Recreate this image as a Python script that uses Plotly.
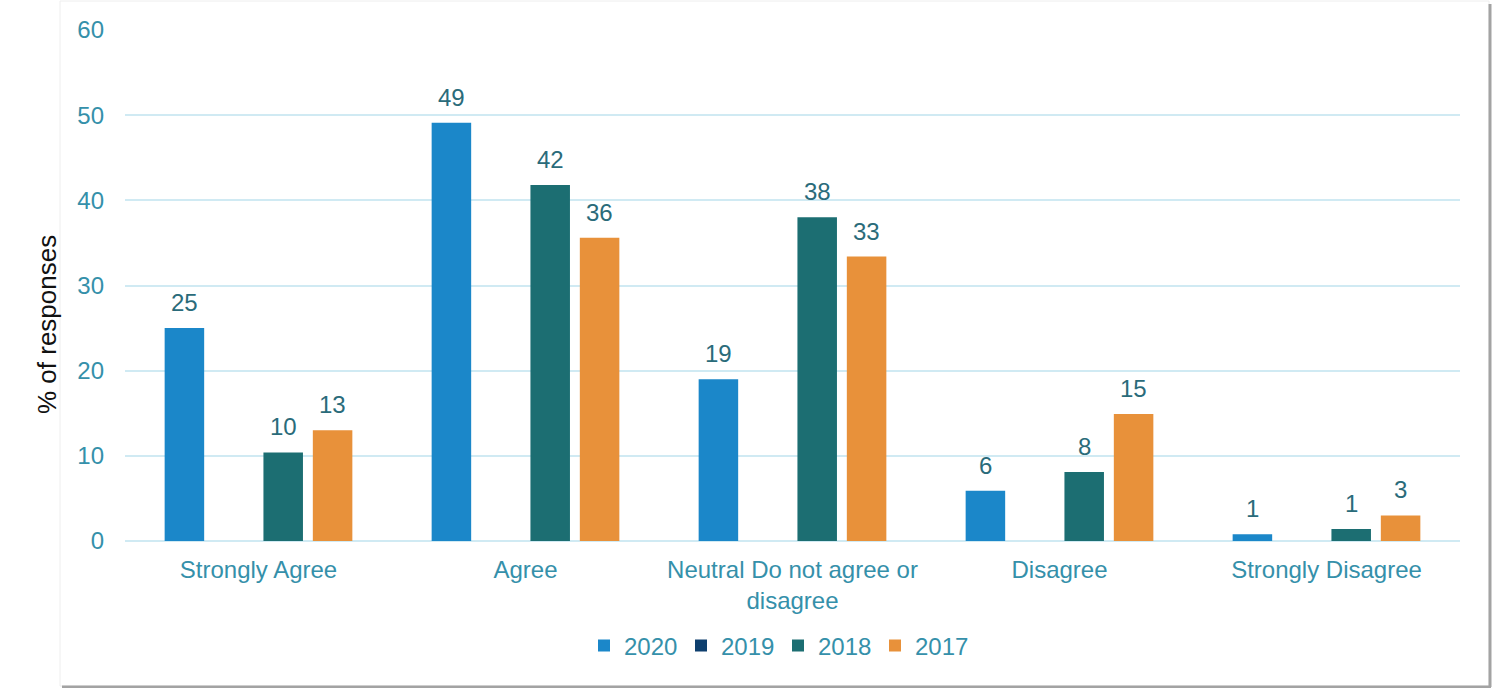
import plotly.graph_objects as go

categories = ["Strongly Agree", "Agree", "Neutral Do not agree or<br>disagree",
              "Disagree", "Strongly Disagree"]
years = ["2020", "2019", "2018", "2017"]
values_2020 = [25.0, 49.1, 19.0, 5.9, 0.8]
values_2019 = [None, None, None, None, None]
values_2018 = [10.4, 41.8, 38.0, 8.1, 1.4]
values_2017 = [13.0, 35.6, 33.4, 14.9, 3.0]
y_ticks = [0, 10, 20, 30, 40, 50, 60]

series = [values_2020, values_2019, values_2018, values_2017]
colors = ["#1B87C9", "#0E3F6E", "#1C6E72", "#E8913A"]

W, H = 1492, 688
ML, MR, MT, MB = 125, 32, 30, 147
PW, PH = W - ML - MR, H - MT - MB

TICK_COLOR = "#3590AA"
LABEL_COLOR = "#2A6B7A"
FONT = "Liberation Sans, Arial, sans-serif"
FS = 24

fig = go.Figure()
for name, vals, col in zip(years, series, colors):
    fig.add_trace(go.Bar(
        name=name, x=categories, y=vals,
        marker=dict(color=col, line=dict(width=0)),
    ))

# value labels above each bar, offset to each bar's slot in the group
n_cat = len(categories)
cat_w = PW / n_cat
bargap = 0.26
slot = cat_w * (1 - bargap) / len(years)
annotations = []
for j, vals in enumerate(series):
    for i, v in enumerate(vals):
        if v is None:
            continue
        annotations.append(dict(
            x=categories[i], y=v, xref="x", yref="y",
            text=f"{v:.0f}", showarrow=False,
            xshift=(j - 1.5) * slot, yshift=10, yanchor="bottom",
            font=dict(size=FS, color=LABEL_COLOR, family=FONT),
        ))

def px_x(px):
    return (px - ML) / PW

def px_y(py):
    return (H - MB - py) / PH

annotations.append(dict(
    x=px_x(30), y=px_y(325), xref="paper", yref="paper",
    text="% of responses", textangle=-90, showarrow=False,
    font=dict(size=26, color="#111111", family=FONT),
))

shapes = [
    # card outline
    dict(type="rect", xref="paper", yref="paper",
         x0=px_x(60), x1=px_x(1489), y0=px_y(686), y1=px_y(1),
         line=dict(color="#EEEEEE", width=1), fillcolor="rgba(0,0,0,0)", layer="below"),
    # card shadow (right and bottom)
    dict(type="line", xref="paper", yref="paper",
         x0=px_x(1490), x1=px_x(1490), y0=px_y(687), y1=px_y(4),
         line=dict(color="#A3A3A3", width=3)),
    dict(type="line", xref="paper", yref="paper",
         x0=px_x(62), x1=px_x(1491), y0=px_y(687), y1=px_y(687),
         line=dict(color="#A3A3A3", width=3)),
]

fig.update_layout(
    width=W, height=H,
    margin=dict(l=ML, r=MR, t=MT, b=MB),
    paper_bgcolor="white", plot_bgcolor="white",
    barmode="group", bargap=bargap, bargroupgap=0.2,
    font=dict(family=FONT, size=FS, color=TICK_COLOR),
    showlegend=True,
    legend=dict(orientation="h", x=px_x(778), xanchor="center",
                y=px_y(646), yanchor="middle",
                font=dict(size=FS, color=TICK_COLOR),
                itemwidth=30, tracegroupgap=0,
                entrywidth=52, entrywidthmode="pixels"),
    xaxis=dict(showgrid=False, showline=False, zeroline=False,
               ticks="", ticklabelstandoff=12,
               tickfont=dict(size=FS, color=TICK_COLOR)),
    yaxis=dict(range=[0, 60], tickvals=y_ticks, showgrid=True,
               gridcolor="#D0EAF3", gridwidth=2, zeroline=True,
               zerolinecolor="#D0EAF3", zerolinewidth=2, showline=False,
               ticks="", ticklabelstandoff=20,
               tickfont=dict(size=FS, color=TICK_COLOR)),
    annotations=annotations,
    shapes=shapes,
)

fig.write_html("out.html")
